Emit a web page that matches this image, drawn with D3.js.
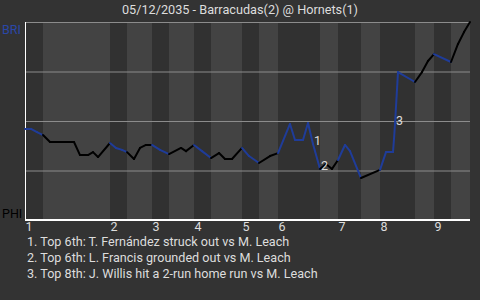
<!DOCTYPE html>
<html lang="en">
<head>
    <meta charset="UTF-8"/>
    <title>Win Probability</title>
    <script src="https://d3js.org/d3.v7.min.js"></script>
    <style>
        body { margin: 0; background-color: #333333; }
        text { font-family: Roboto, "Noto Sans", sans-serif; }
    </style>
</head>
<body>
    <script>
        var w = 480;
        var h = 300;

        var title = "05/12/2035 - Barracudas(2) @ Hornets(1)";
        var awayTeam = "BRI";
        var homeTeam = "PHI";

        // start of each half inning (top 1, bottom 1, top 2 ...), in plays
        var halfStarts = [0, 3.6, 17, 20.4, 25.4, 28.8, 33.8, 37.2, 43.4, 46.8,
                          50.6, 59, 62.6, 67.2, 71, 78, 81.8, 85.2];
        var gameEnd = 89;
        var innings = ["1", "2", "3", "4", "5", "6", "7", "8", "9"];

        // away win probability after each play
        var playX = [0, 1.2, 2.4, 3.6, 5, 9.8, 11, 12.6, 13.6, 14.6, 17,
                     18.2, 19.4, 20.4, 21.8, 23, 24.2, 25.4, 27, 28.8,
                     31.2, 32.2, 33.8, 35.4, 37.2, 38.8, 40, 41.4, 43.4,
                     44.8, 46.8, 49, 50.6, 53, 54, 55.6, 56.6, 57.6, 59,
                     60.2, 61.4, 62.6, 64, 65, 67.2, 71, 72.2, 73.6, 73.8,
                     74, 74.6, 78, 79.4, 80.6, 81.8, 85.2, 86.6, 87.8, 89];
        var playWP = [0.46, 0.46, 0.444, 0.429, 0.394, 0.394, 0.328, 0.328, 0.343, 0.318, 0.389,
                      0.364, 0.354, 0.343, 0.308, 0.364, 0.379, 0.379, 0.354, 0.333,
                      0.364, 0.348, 0.379, 0.348, 0.313, 0.338, 0.308, 0.308, 0.364,
                      0.323, 0.288, 0.323, 0.338, 0.485, 0.404, 0.404, 0.49, 0.384, 0.258,
                      0.283, 0.258, 0.303, 0.379, 0.348, 0.212, 0.253, 0.343, 0.343, 0.409,
                      0.485, 0.747, 0.697, 0.747, 0.803, 0.838, 0.798, 0.889, 0.949, 1.0];

        // key plays: index into the plays above
        var keyPlays = [37, 38, 49];
        var keyNotes = [
            "1. Top 6th: T. Fernández struck out vs M. Leach",
            "2. Top 6th: L. Francis grounded out vs M. Leach",
            "3. Top 8th: J. Willis hit a 2-run home run vs M. Leach"
        ];

        var awayColor = "#1f3c99";
        var homeColor = "#000000";

        var xScale = d3.scaleLinear()
                        .domain([0, gameEnd])
                        .range([25, 470]);

        var yScale = d3.scaleLinear()
                        .domain([0, 1])
                        .range([220, 22]);

        var svg = d3.select("body")
                    .append("svg")
                    .attr("width", w)
                    .attr("height", h);

        svg.append("rect")
            .attr("width", w)
            .attr("height", h)
            .attr("fill", "#333333");

        // half inning stripes
        svg.selectAll("rect.half")
            .data(halfStarts)
            .enter()
            .append("rect")
            .attr("class", "half")
            .attr("x", function(d) { return xScale(d); })
            .attr("y", yScale(1))
            .attr("width", function(d, i) {
                var next = i + 1 < halfStarts.length ? halfStarts[i + 1] : gameEnd;
                return xScale(next) - xScale(d);
            })
            .attr("height", yScale(0) - yScale(1))
            .attr("fill", function(d, i) { return i % 2 == 0 ? "#313131" : "#434343"; });

        // grid lines
        svg.selectAll("line.grid")
            .data([0.25, 0.5, 0.75, 1])
            .enter()
            .append("line")
            .attr("class", "grid")
            .attr("x1", xScale(0))
            .attr("x2", xScale(gameEnd))
            .attr("y1", function(d) { return yScale(d) + 0.5; })
            .attr("y2", function(d) { return yScale(d) + 0.5; })
            .attr("stroke", "#8c8c8c")
            .attr("stroke-width", 1);

        // axes
        svg.append("line")
            .attr("x1", xScale(0) + 0.5).attr("x2", xScale(0) + 0.5)
            .attr("y1", yScale(1)).attr("y2", yScale(0))
            .attr("stroke", "#ffffff").attr("stroke-width", 1);

        svg.append("line")
            .attr("x1", xScale(0)).attr("x2", xScale(gameEnd))
            .attr("y1", yScale(0)).attr("y2", yScale(0))
            .attr("stroke", "#ffffff").attr("stroke-width", 2);

        // line segments, coloured by the half inning they fall in
        function halfOf(x) {
            var k = 0;
            for (var j = 0; j < halfStarts.length; j++) {
                if (x >= halfStarts[j]) k = j;
            }
            return k;
        }

        var segments = d3.range(playX.length - 1);

        svg.selectAll("line.wp")
            .data(segments)
            .enter()
            .append("line")
            .attr("class", "wp")
            .attr("x1", function(i) { return xScale(playX[i]); })
            .attr("y1", function(i) { return yScale(playWP[i]); })
            .attr("x2", function(i) { return xScale(playX[i + 1]); })
            .attr("y2", function(i) { return yScale(playWP[i + 1]); })
            .attr("stroke", function(i) {
                var mid = (playX[i] + playX[i + 1]) / 2;
                return halfOf(mid) % 2 == 0 ? awayColor : homeColor;
            })
            .attr("stroke-width", 2)
            .attr("stroke-linecap", "round");

        // key play markers
        svg.selectAll("text.key")
            .data(keyPlays)
            .enter()
            .append("text")
            .attr("class", "key")
            .text(function(d, i) { return i + 1; })
            .attr("x", function(d) { return xScale(playX[d]) + 1; })
            .attr("y", function(d) { return yScale(playWP[d]) + 1; })
            .attr("font-size", "12.5px")
            .attr("fill", "#dddddd");

        // inning labels at each top half
        svg.selectAll("text.inning")
            .data(innings)
            .enter()
            .append("text")
            .attr("class", "inning")
            .text(function(d) { return d; })
            .attr("x", function(d, i) { return xScale(halfStarts[i * 2]) + 0.5; })
            .attr("y", 231)
            .attr("font-size", "12.5px")
            .attr("fill", "#dddddd");

        svg.append("text")
            .text(title)
            .attr("x", w / 2)
            .attr("y", 14)
            .attr("text-anchor", "middle")
            .attr("font-size", "12.7px")
            .attr("fill", "#dddddd");

        svg.append("text")
            .text(awayTeam)
            .attr("x", 2)
            .attr("y", 34)
            .attr("font-size", "12.5px")
            .attr("fill", "#2a47a8");

        svg.append("text")
            .text(homeTeam)
            .attr("x", 2)
            .attr("y", 218)
            .attr("font-size", "12.5px")
            .attr("fill", "#000000");

        svg.selectAll("text.note")
            .data(keyNotes)
            .enter()
            .append("text")
            .attr("class", "note")
            .text(function(d) { return d; })
            .attr("x", 27)
            .attr("y", function(d, i) { return 246 + i * 16; })
            .attr("font-size", "12.6px")
            .attr("fill", "#dddddd");
    </script>
</body>
</html>
